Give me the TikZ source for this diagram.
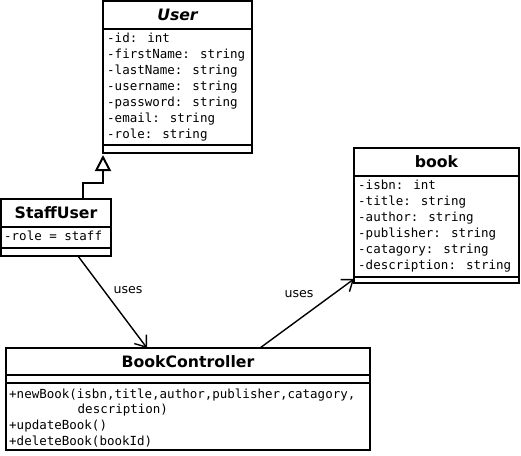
\documentclass[tikz,border=0pt]{standalone}
\usepackage{fontspec}
\setmainfont{DejaVu Sans}
\newfontfamily\monof{DejaVu Sans Mono}
\usetikzlibrary{arrows.meta,calc}
\tikzset{
  cls/.style={draw, line width=2pt, inner sep=0pt, outer sep=0pt, anchor=north west, fill=white},
  sepline/.style={line width=2pt},
  ttl/.style={font=\fontsize{15.7}{18}\selectfont\bfseries, inner sep=0pt},
  attr/.style={font=\monof\fontsize{12.5}{16}\selectfont, inner sep=0pt, anchor=base west},
  lbl/.style={font=\fontsize{12.6}{16}\selectfont, inner sep=0pt},
  uses/.style={line width=1.4pt, -{Straight Barb[length=10pt, width=15pt, line width=1.4pt]}},
  gen/.style={line width=2pt, -{Triangle[open, length=16pt, width=16pt, fill=white, line width=2pt]}}
}
\begin{document}
\begin{tikzpicture}[x=1pt, y=-1pt]
\useasboundingbox (0,0) rectangle (521,455);
\fill[white] (0,0) rectangle (521,455);

% User
\node[cls, minimum width=149pt, minimum height=152pt] (user) at (103,1) {};
\draw[sepline] (103,29) -- (252,29);
\draw[sepline] (103,145) -- (252,145);
\node[ttl, font=\fontsize{15.7}{18}\selectfont\bfseries\itshape] (usert) at (177.5,15) {User};
\node[attr] (u1) at (107,42.5) {-id: int};
\node[attr] (u2) at (107,58.5) {-firstName: string};
\node[attr] (u3) at (107,74.5) {-lastName: string};
\node[attr] (u4) at (107,90.5) {-username: string};
\node[attr] (u5) at (107,106.5) {-password: string};
\node[attr] (u6) at (107,122.5) {-email: string};
\node[attr] (u7) at (107,138.5) {-role: string};

% StaffUser
\node[cls, minimum width=110pt, minimum height=57pt] (staff) at (1,199) {};
\draw[sepline] (1,227) -- (111,227);
\draw[sepline] (1,248) -- (111,248);
\node[ttl] (stafft) at (56,213) {StaffUser};
\node[attr] (s1) at (4,240.5) {-role = staff};

% book
\node[cls, minimum width=165pt, minimum height=135pt] (book) at (354,148) {};
\draw[sepline] (354,176) -- (519,176);
\draw[sepline] (354,277) -- (519,277);
\node[ttl] (bookt) at (436.5,162) {book};
\node[attr] (b1) at (358,189.5) {-isbn: int};
\node[attr] (b2) at (358,205.5) {-title: string};
\node[attr] (b3) at (358,221.5) {-author: string};
\node[attr] (b4) at (358,237.5) {-publisher: string};
\node[attr] (b5) at (358,253.5) {-catagory: string};
\node[attr] (b6) at (358,269.5) {-description: string};

% BookController
\node[cls, minimum width=364pt, minimum height=102pt] (ctrl) at (6,348) {};
\draw[sepline] (6,375) -- (370,375);
\draw[sepline] (6,383) -- (370,383);
\node[ttl] (ctrlt) at (188,362) {BookController};
\node[attr] (c1) at (9,398.5) {+newBook(isbn,title,author,publisher,catagory,};
\node[attr] (c2) at (77.5,413.5) {description)};
\node[attr] (c3) at (9,429.5) {+updateBook()};
\node[attr] (c4) at (9,445.5) {+deleteBook(bookId)};

% generalization
\draw[gen] ([xshift=82pt]staff.north west) |- ([yshift=-30pt]user.south west) -- ([yshift=-2pt]user.south west);

% uses arrows
\draw[uses] ([xshift=77pt]staff.south west) -- ([xshift=141pt]ctrl.north west);
\draw[uses] ([xshift=254pt]ctrl.north west) -- ([yshift=4pt]book.south west);
\node[lbl] (l1) at (128,290) {uses};
\node[lbl] (l2) at (299,294) {uses};
\end{tikzpicture}
\end{document}
